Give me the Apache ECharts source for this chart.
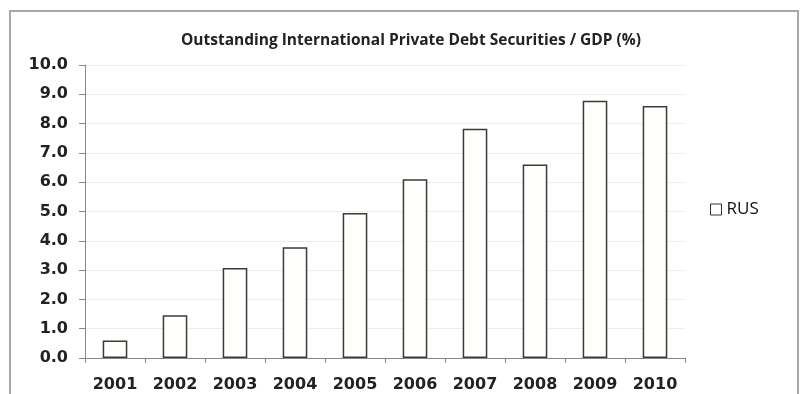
<!DOCTYPE html>
<html>
<head>
<meta charset="utf-8">
<script src="https://cdn.jsdelivr.net/npm/echarts@6/dist/echarts.min.js"></script>
<style>
  html, body { margin: 0; padding: 0; background: #fff; }
  #main { width: 801px; height: 394px; }
</style>
</head>
<body>
<div id="main"></div>
<script>
var years = ['2001', '2002', '2003', '2004', '2005', '2006', '2007', '2008', '2009', '2010'];
var rus = [0.6, 1.46, 3.07, 3.78, 4.95, 6.1, 7.82, 6.6, 8.78, 8.6];
var chartTitle = 'Outstanding International Private Debt Securities / GDP (%)';

var chart = echarts.init(document.getElementById('main'));
var option = {
  animation: false,
  title: {
    text: chartTitle,
    left: 406,
    top: 28,
    textAlign: 'center',
    textStyle: {
      fontFamily: 'Open Sans',
      fontWeight: 'bold',
      fontSize: 15.5,
      color: '#222'
    }
  },
  graphic: [{
    type: 'rect',
    shape: { x: 10, y: 11, width: 788, height: 420 },
    style: { fill: 'none', stroke: '#a8a8a8', lineWidth: 2 },
    silent: true
  }],
  legend: {
    left: 705,
    top: 196,
    itemWidth: 11,
    itemHeight: 11,
    itemGap: 6,
    icon: 'rect',
    data: [{ name: 'RUS', itemStyle: { color: '#fff', borderColor: '#333', borderWidth: 1 } }],
    textStyle: { fontFamily: 'Open Sans', fontSize: 17, color: '#111' }
  },
  grid: { left: 85, right: 116, top: 65, bottom: 36 },
  xAxis: {
    type: 'category',
    data: years,
    axisLine: { lineStyle: { color: '#888', width: 1 } },
    axisTick: { show: true, length: 5, lineStyle: { color: '#888' } },
    axisLabel: {
      fontFamily: 'DejaVu Sans',
      fontWeight: 'bold',
      fontSize: 16,
      color: '#222',
      margin: 19
    }
  },
  yAxis: {
    type: 'value',
    min: 0,
    max: 10,
    interval: 1,
    axisLine: { show: true, lineStyle: { color: '#888' } },
    axisTick: { show: true, length: 6, lineStyle: { color: '#888' } },
    splitLine: { lineStyle: { color: '#ececec' } },
    axisLabel: {
      fontFamily: 'DejaVu Sans',
      fontWeight: 'bold',
      fontSize: 16,
      color: '#222',
      margin: 17,
      formatter: function (v) { return v.toFixed(1); }
    }
  },
  series: [{
    name: 'RUS',
    type: 'bar',
    data: rus,
    barWidth: '41%',
    itemStyle: { color: '#fffffc', borderColor: '#3a3a3a', borderWidth: 1.5 }
  }]
};
chart.setOption(option);
</script>
</body>
</html>
